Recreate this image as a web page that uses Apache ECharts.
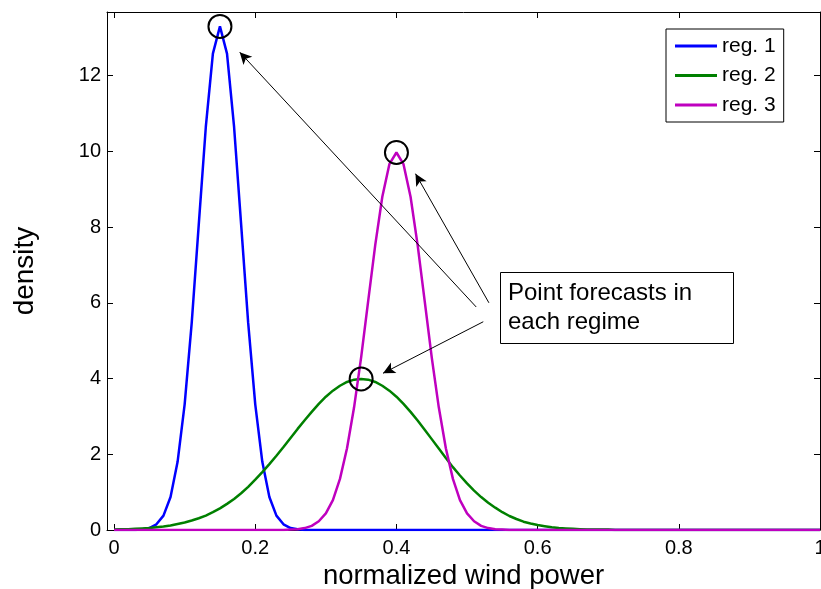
<!DOCTYPE html>
<html>
<head>
<meta charset="utf-8">
<script src="https://cdn.jsdelivr.net/npm/echarts@6/dist/echarts.min.js"></script>
<style>
html,body{margin:0;padding:0;background:#fff;}
#chart{width:821px;height:589px;}
</style>
</head>
<body>
<div id="chart"></div>
<script>
// ---- data ----
const xs = [
  0.00,0.01,0.02,0.03,0.04,0.05,0.06,0.07,0.08,0.09,
  0.10,0.11,0.12,0.13,0.14,0.15,0.16,0.17,0.18,0.19,
  0.20,0.21,0.22,0.23,0.24,0.25,0.26,0.27,0.28,0.29,
  0.30,0.31,0.32,0.33,0.34,0.35,0.36,0.37,0.38,0.39,
  0.40,0.41,0.42,0.43,0.44,0.45,0.46,0.47,0.48,0.49,
  0.50,0.51,0.52,0.53,0.54,0.55,0.56,0.57,0.58,0.59,
  0.60,0.61,0.62,0.63,0.64,0.65,0.66,0.67,0.68,0.69,
  0.70,0.71,0.72,0.73,0.74,0.75,0.76,0.77,0.78,0.79,
  0.80,0.81,0.82,0.83,0.84,0.85,0.86,0.87,0.88,0.89,
  0.90,0.91,0.92,0.93,0.94,0.95,0.96,0.97,0.98,0.99,
  1.00
];
const reg1 = [
  0,0,0,0,0.02,0.05,0.15,0.38,0.87,1.80,
  3.32,5.47,8.07,10.65,12.58,13.30,12.58,10.65,8.07,5.47,
  3.32,1.80,0.87,0.38,0.15,0.05,0.02,0,0,0,
  0,0,0,0,0,0,0,0,0,0,
  0,0,0,0,0,0,0,0,0,0,
  0,0,0,0,0,0,0,0,0,0,
  0,0,0,0,0,0,0,0,0,0,
  0,0,0,0,0,0,0,0,0,0,
  0,0,0,0,0,0,0,0,0,0,
  0,0,0,0,0,0,0,0,0,0,
  0
];
const reg2 = [
  0.01,0.02,0.02,0.03,0.04,0.05,0.07,0.09,0.12,0.16,
  0.20,0.25,0.31,0.38,0.47,0.57,0.69,0.82,0.97,1.14,
  1.33,1.53,1.74,1.96,2.19,2.43,2.67,2.90,3.12,3.33,
  3.52,3.68,3.81,3.91,3.97,3.99,3.97,3.91,3.81,3.68,
  3.52,3.33,3.12,2.89,2.65,2.40,2.15,1.90,1.66,1.44,
  1.23,1.04,0.87,0.72,0.59,0.47,0.37,0.29,0.22,0.17,
  0.13,0.10,0.07,0.05,0.04,0.03,0.02,0.01,0.01,0.01,
  0.01,0,0,0,0,0,0,0,0,0,
  0,0,0,0,0,0,0,0,0,0,
  0,0,0,0,0,0,0,0,0,0,
  0
];
const reg3 = [
  0,0,0,0,0,0,0,0,0,0,
  0,0,0,0,0,0,0,0,0,0,
  0,0,0,0,0,0.01,0.02,0.05,0.11,0.23,
  0.44,0.79,1.35,2.16,3.24,4.56,6.05,7.53,8.80,9.66,
  9.97,9.66,8.80,7.53,6.05,4.56,3.24,2.16,1.35,0.79,
  0.44,0.23,0.11,0.05,0.02,0.01,0,0,0,0,
  0,0,0,0,0,0,0,0,0,0,
  0,0,0,0,0,0,0,0,0,0,
  0,0,0,0,0,0,0,0,0,0,
  0,0,0,0,0,0,0,0,0,0,
  0
];
const seriesNames = ['reg. 1', 'reg. 2', 'reg. 3'];
const xTicks = [0, 0.2, 0.4, 0.6, 0.8, 1];
const yTicks = [0, 2, 4, 6, 8, 10, 12];
const xTitle = 'normalized wind power';
const yTitle = 'density';
const noteText = 'Point forecasts in\neach regime';
// arrow annotations in data coordinates: [tail, head]
const arrows = [
  [[0.513, 5.89], [0.178, 12.62]],
  [[0.531, 6.00], [0.427, 9.41]],
  [[0.523, 5.50], [0.381, 4.14]]
];

// ---- chart ----
const FONT = '"Liberation Sans", Arial, Helvetica, sans-serif';
const colors = ['#0000ff', '#008000', '#bf00bf'];
const allSeries = [reg1, reg2, reg3];

function peak(arr) {
  let k = 0;
  for (let i = 1; i < arr.length; i++) if (arr[i] > arr[k]) k = i;
  return [xs[k], arr[k]];
}
const forecasts = allSeries.map(peak);

const chart = echarts.init(document.getElementById('chart'), null, {renderer: 'canvas'});

const axisLineStyle = {color: '#000', width: 1};
const baseX = {
  type: 'value', min: -0.01, max: 1,
  splitLine: {show: false},
  axisLine: {show: true, onZero: false, lineStyle: axisLineStyle},
  axisTick: {show: true, inside: true, length: 6, customValues: xTicks, lineStyle: axisLineStyle}
};
const baseY = {
  type: 'value', min: 0, max: 13.68,
  splitLine: {show: false},
  axisLine: {show: true, onZero: false, lineStyle: axisLineStyle},
  axisTick: {show: true, inside: true, length: 6, customValues: yTicks, lineStyle: axisLineStyle}
};

const option = {
  animation: false,
  backgroundColor: '#fff',
  textStyle: {fontFamily: FONT},
  grid: {left: 107, right: 1, top: 12, bottom: 59, containLabel: false, outerBoundsMode: 'none'},
  xAxis: [
    Object.assign({}, baseX, {
      position: 'bottom',
      axisLabel: {customValues: xTicks, fontSize: 20, color: '#000', margin: 8, fontFamily: FONT,
        hideOverlap: false, formatter: v => String(v)},
      name: xTitle, nameLocation: 'middle', nameGap: 30,
      nameTextStyle: {fontSize: 27.5, color: '#000', fontFamily: FONT}
    }),
    Object.assign({}, baseX, {position: 'top', axisLabel: {show: false}})
  ],
  yAxis: [
    Object.assign({}, baseY, {
      position: 'left',
      axisLabel: {customValues: yTicks, fontSize: 20, color: '#000', margin: 6, fontFamily: FONT},
      name: yTitle, nameLocation: 'middle', nameGap: 68, nameRotate: 90,
      nameTextStyle: {fontSize: 28, color: '#000', fontFamily: FONT}
    }),
    Object.assign({}, baseY, {position: 'right', axisLabel: {show: false}})
  ],
  legend: {
    data: seriesNames,
    orient: 'vertical',
    left: 666, top: 29,
    icon: 'rect',
    itemWidth: 42, itemHeight: 3, itemGap: 8.5,
    padding: [6.5, 8, 6.5, 9],
    borderColor: '#000', borderWidth: 1, borderRadius: 0,
    backgroundColor: '#fff',
    textStyle: {fontSize: 21, color: '#000', fontFamily: FONT, lineHeight: 21}
  },
  series: allSeries.map((arr, i) => ({
    name: seriesNames[i],
    type: 'line',
    data: xs.map((x, j) => [x, arr[j]]),
    symbol: 'none',
    showSymbol: false,
    smooth: false,
    lineStyle: {color: colors[i], width: 2.5},
    itemStyle: {color: colors[i]},
    z: 2 + i
  })).concat([{
    name: 'forecasts',
    type: 'scatter',
    data: forecasts,
    symbol: 'circle',
    symbolSize: 23,
    itemStyle: {color: 'rgba(0,0,0,0)', borderColor: '#000', borderWidth: 2, opacity: 1},
    z: 10,
    silent: true,
    markLine: {
      silent: true,
      symbol: ['none', 'arrow'],
      symbolSize: [9, 12],
      lineStyle: {color: '#000', width: 1, type: 'solid', opacity: 1},
      label: {show: false},
      emphasis: {disabled: true},
      data: arrows.map(a => [{coord: a[0]}, {coord: a[1]}])
    }
  }]),
  graphic: [{
    type: 'group', left: 500, top: 272,
    children: [
      {type: 'rect', shape: {x: 0.5, y: 0.5, width: 233, height: 71},
       style: {fill: '#fff', stroke: '#000', lineWidth: 1}},
      {type: 'text', x: 8, y: 36,
       style: {text: noteText, fontSize: 24, fontFamily: FONT, fill: '#000',
               verticalAlign: 'middle', align: 'left', lineHeight: 28.5}}
    ]
  }]
};
chart.setOption(option);
</script>
</body>
</html>
